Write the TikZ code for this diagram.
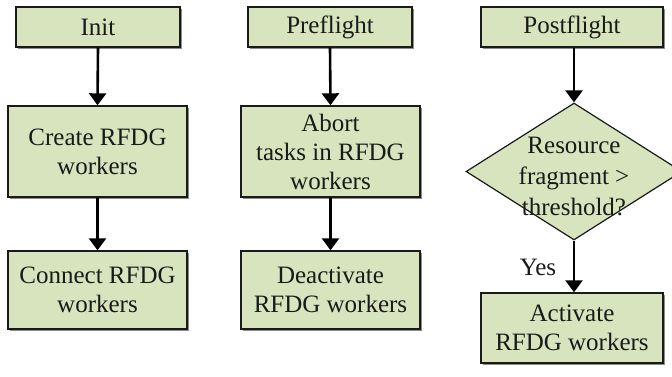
\documentclass[tikz,border=0pt]{standalone}
\usepackage{fontspec}
\setmainfont{Liberation Serif}
\usetikzlibrary{shapes.geometric,arrows.meta,shadows}
\definecolor{boxfill}{HTML}{D7E4BD}
\definecolor{ink}{HTML}{1A1A1A}
\tikzset{
  box/.style={draw=ink, line width=1.4pt, fill=boxfill, rectangle, align=center,
    inner sep=0pt, text=ink, font=\fontsize{25}{29}\selectfont,
    drop shadow={shadow xshift=2pt, shadow yshift=-2pt, opacity=0.45, fill=black}},
  decision/.style={draw=ink, line width=1.2pt, fill=boxfill, diamond, inner sep=0pt,
    shape aspect=1.58},
  txt/.style={align=center, text=ink, font=\fontsize{25}{31}\selectfont, inner sep=0pt},
  flow/.style={draw=black, line width=2.6pt, -{Triangle[width=17pt,length=12pt]}}
}
\begin{document}
\begin{tikzpicture}[x=1pt,y=-1pt]
\useasboundingbox (0,0) rectangle (672,377);
% column 1
\node[box, minimum width=164pt, minimum height=40pt] (init) at (98,27) {Init};
\node[box, minimum width=179pt, minimum height=91pt] (create) at (97.5,151.5) {Create RFDG\\workers};
\node[box, minimum width=179pt, minimum height=78pt] (connect) at (97.5,290) {Connect RFDG\\workers};
% column 2
\node[box, minimum width=164pt, minimum height=40pt] (pre) at (330,27) {Preflight};
\node[box, minimum width=179pt, minimum height=91pt] (abort) at (330.5,151.5) {Abort\\tasks in RFDG\\workers};
\node[box, minimum width=179pt, minimum height=78pt] (deact) at (330.5,290) {Deactivate\\RFDG workers};
% column 3
\node[box, minimum width=182pt, minimum height=40pt] (post) at (572,27) {Postflight};
\node[decision, minimum width=216pt, minimum height=137pt] (dec) at (574,171.5) {};
\node[txt] (dectxt) at (574,176) {Resource\\fragment >\\threshold?};
\node[box, minimum width=182pt, minimum height=70pt] (act) at (572,328) {Activate\\RFDG workers};
\node[txt] (yes) at (538,267) {Yes};
% connectors
\draw[flow] (init.south) -- (create.north);
\draw[flow] (create.south) -- (connect.north);
\draw[flow] (pre.south) -- (abort.north);
\draw[flow] (abort.south) -- (deact.north);
\draw[flow] (post.south -| dec.north) -- (dec.north);
\draw[flow] (dec.south) -- (act.north -| dec.south);
\end{tikzpicture}
\end{document}
